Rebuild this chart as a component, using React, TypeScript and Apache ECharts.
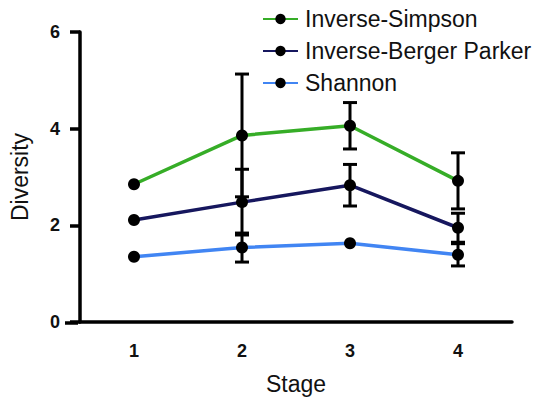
import React, { useEffect, useRef } from "react";
import * as echarts from "echarts";

const stages = ["1", "2", "3", "4"];
const seriesNames = ["Inverse-Simpson", "Inverse-Berger Parker", "Shannon"];
const simpson = [2.85, 3.86, 4.06, 2.92];
const simpsonErr = [0, 1.27, 0.48, 0.58];
const berger = [2.11, 2.48, 2.83, 1.95];
const bergerErr = [0, 0.68, 0.43, 0.3];
const shannon = [1.35, 1.54, 1.63, 1.39];
const shannonErr = [0, 0.3, 0, 0.23];
const colors = ["#36ad27", "#16175e", "#4185f3"];

const FONT = "Liberation Sans, Arial, sans-serif";

export default function App() {
  const ref = useRef<HTMLDivElement>(null);
  useEffect(() => {
    if (!ref.current) return;
    const chart = echarts.init(ref.current, null, { renderer: "svg" });
    const values = [simpson, berger, shannon];
    const errs = [simpsonErr, bergerErr, shannonErr];
    const errData: number[][] = [];
    values.forEach((vals, s) => {
      vals.forEach((v, i) => {
        if (errs[s][i] > 0) errData.push([i, v - errs[s][i], v + errs[s][i]]);
      });
    });
    const lineSeries = values.map((vals, s) => ({
      name: seriesNames[s],
      type: "line",
      data: vals,
      symbol: "circle",
      symbolSize: 12,
      z: 3,
      lineStyle: { color: colors[s], width: 3.5 },
      itemStyle: { color: "#000" },
    }));
    chart.setOption({
      animation: false,
      textStyle: { fontFamily: FONT },
      grid: { left: 77, right: 30, top: 32, bottom: 77 },
      legend: {
        orient: "vertical",
        left: 257,
        top: 1,
        itemWidth: 35,
        itemHeight: 13,
        itemGap: 6,
        data: seriesNames,
        textStyle: {
          fontSize: 23,
          lineHeight: 26,
          color: "#111",
          fontFamily: FONT,
          padding: [0, 0, 0, 2],
        },
      },
      xAxis: {
        type: "category",
        data: stages,
        name: "Stage",
        nameLocation: "middle",
        nameGap: 50,
        nameTextStyle: { fontSize: 23, color: "#111", fontFamily: FONT },
        axisLine: { lineStyle: { color: "#000", width: 3.5 } },
        axisTick: { alignWithLabel: true, length: 9, lineStyle: { width: 3.5, color: "#000" } },
        axisLabel: { fontSize: 18, fontWeight: "bold", color: "#111", margin: 20, fontFamily: FONT },
      },
      yAxis: {
        type: "value",
        min: 0,
        max: 6,
        interval: 2,
        name: "Diversity",
        nameLocation: "middle",
        nameGap: 49,
        nameTextStyle: { fontSize: 23, color: "#111", fontFamily: FONT },
        splitLine: { show: false },
        axisLine: { show: true, lineStyle: { color: "#000", width: 3.5 } },
        axisTick: { show: true, length: 10, lineStyle: { width: 3.5, color: "#000" } },
        axisLabel: { fontSize: 18, fontWeight: "bold", color: "#111", margin: 20, fontFamily: FONT },
      },
      graphic: [
        {
          type: "line",
          shape: { x1: 65, y1: 323, x2: 78, y2: 323 },
          style: { stroke: "#000", lineWidth: 3.5 },
        },
      ],
      series: [
        ...lineSeries,
        {
          type: "custom",
          z: 1,
          silent: true,
          data: errData,
          renderItem: (params: any, api: any) => {
            const x = api.value(0);
            const lo = api.coord([x, api.value(1)]);
            const hi = api.coord([x, api.value(2)]);
            const w = 7;
            const st = { stroke: "#000", lineWidth: 3 };
            return {
              type: "group",
              children: [
                { type: "line", shape: { x1: lo[0], y1: lo[1], x2: hi[0], y2: hi[1] }, style: st },
                { type: "line", shape: { x1: lo[0] - w, y1: lo[1], x2: lo[0] + w, y2: lo[1] }, style: st },
                { type: "line", shape: { x1: hi[0] - w, y1: hi[1], x2: hi[0] + w, y2: hi[1] }, style: st },
              ],
            };
          },
        },
      ],
    });
    return () => chart.dispose();
  }, []);
  return (
    <div
      ref={ref}
      style={{ position: "absolute", left: 0, top: 0, width: 542, height: 400 }}
    />
  );
}
